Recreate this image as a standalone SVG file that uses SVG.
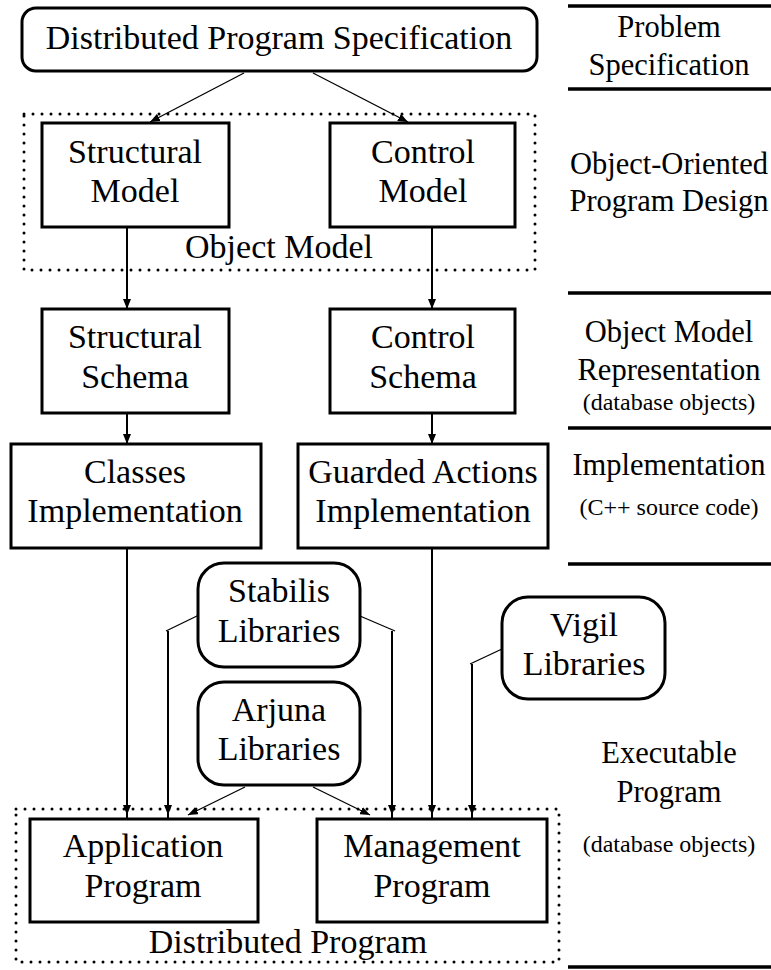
<svg xmlns="http://www.w3.org/2000/svg" width="771" height="970" viewBox="0 0 771 970">
<style>
text{font-family:"Liberation Serif","Times New Roman",serif;font-size:34px;fill:#000;text-anchor:middle}
.rl{font-size:30.5px}
.sm{font-size:24px}
.box{fill:#fff;stroke:#000;stroke-width:3}
.dot{fill:none;stroke:#000;stroke-width:3;stroke-dasharray:0 9;stroke-linecap:round}
.sep{stroke:#000;stroke-width:3.5}
.c{fill:none;stroke:#000;stroke-width:2}
.d{fill:none;stroke:#000;stroke-width:1.3}
</style>
<defs>
<marker id="ah" viewBox="0 0 10 8" refX="10" refY="4" markerWidth="10" markerHeight="8" markerUnits="userSpaceOnUse" orient="auto">
<path d="M0,0 L10,4 L0,8 z" fill="#000"/>
</marker>
</defs>
<rect width="771" height="970" fill="#fff"/>

<g id="layers">
<line class="sep" x1="568" y1="6" x2="771" y2="6"/>
<line class="sep" x1="568" y1="89" x2="771" y2="89"/>
<line class="sep" x1="568" y1="293" x2="771" y2="293"/>
<line class="sep" x1="568" y1="428" x2="771" y2="428"/>
<line class="sep" x1="568" y1="564" x2="771" y2="564"/>
<line class="sep" x1="568" y1="967" x2="771" y2="967"/>
<text class="rl" x="669" y="37">Problem</text>
<text class="rl" x="669" y="75">Specification</text>
<text class="rl" x="669" y="174">Object-Oriented</text>
<text class="rl" x="669" y="211">Program Design</text>
<text class="rl" x="669" y="342">Object Model</text>
<text class="rl" x="669" y="380">Representation</text>
<text class="sm" x="669" y="410">(database objects)</text>
<text class="rl" x="669" y="475">Implementation</text>
<text class="sm" x="669" y="515">(C++ source code)</text>
<text class="rl" x="669" y="763">Executable</text>
<text class="rl" x="669" y="802">Program</text>
<text class="sm" x="669" y="852">(database objects)</text>
</g>

<g id="object-model-group">
<rect class="dot" x="24" y="114" width="511" height="156"/>
<text x="279" y="258">Object Model</text>
</g>
<g id="distributed-program-group">
<rect class="dot" x="16" y="809" width="543" height="153"/>
<text x="288" y="953">Distributed Program</text>
</g>

<g id="connectors">
<line class="d" x1="244" y1="73" x2="150" y2="122" marker-end="url(#ah)"/>
<line class="d" x1="313" y1="73" x2="408" y2="122" marker-end="url(#ah)"/>
<line class="c" x1="127" y1="227" x2="127" y2="309" marker-end="url(#ah)"/>
<line class="c" x1="432" y1="227" x2="432" y2="309" marker-end="url(#ah)"/>
<line class="c" x1="127" y1="413" x2="127" y2="444" marker-end="url(#ah)"/>
<line class="c" x1="432" y1="413" x2="432" y2="444" marker-end="url(#ah)"/>
<line class="c" x1="127" y1="548" x2="127" y2="819"/>
<line class="c" x1="127" y1="548" x2="127" y2="815" marker-end="url(#ah)"/>
<line class="c" x1="432" y1="548" x2="432" y2="819"/>
<line class="c" x1="432" y1="548" x2="432" y2="815" marker-end="url(#ah)"/>
<polyline class="d" points="199,615 166,631"/>
<line class="c" x1="168" y1="631" x2="168" y2="819"/>
<line class="c" x1="168" y1="631" x2="168" y2="815" marker-end="url(#ah)"/>
<polyline class="d" points="360,616 395,631"/>
<line class="c" x1="392" y1="631" x2="392" y2="819"/>
<line class="c" x1="392" y1="631" x2="392" y2="815" marker-end="url(#ah)"/>
<polyline class="d" points="502,649 470,664"/>
<line class="c" x1="472" y1="664" x2="472" y2="819"/>
<line class="c" x1="472" y1="664" x2="472" y2="815" marker-end="url(#ah)"/>
<line class="d" x1="245" y1="787" x2="188" y2="815" marker-end="url(#ah)"/>
<line class="d" x1="313" y1="787" x2="370" y2="815" marker-end="url(#ah)"/>
</g>

<g id="spec">
<rect class="box" x="22" y="8" width="515" height="63" rx="14"/>
<text x="279" y="49">Distributed Program Specification</text>
</g>
<g id="structural-model">
<rect class="box" x="42" y="123" width="187" height="104"/>
<text x="135" y="163">Structural</text>
<text x="135" y="202">Model</text>
</g>
<g id="control-model">
<rect class="box" x="330" y="123" width="185" height="104"/>
<text x="423" y="163">Control</text>
<text x="423" y="202">Model</text>
</g>
<g id="structural-schema">
<rect class="box" x="42" y="309" width="187" height="104"/>
<text x="135" y="348">Structural</text>
<text x="135" y="388">Schema</text>
</g>
<g id="control-schema">
<rect class="box" x="330" y="309" width="185" height="104"/>
<text x="423" y="348">Control</text>
<text x="423" y="388">Schema</text>
</g>
<g id="classes-impl">
<rect class="box" x="11" y="444" width="250" height="104"/>
<text x="135" y="483">Classes</text>
<text x="135" y="522">Implementation</text>
</g>
<g id="guarded-impl">
<rect class="box" x="298" y="444" width="250" height="104"/>
<text x="423" y="483">Guarded Actions</text>
<text x="423" y="522">Implementation</text>
</g>
<g id="stabilis">
<rect class="box" x="198" y="563" width="162" height="104" rx="26"/>
<text x="279" y="602">Stabilis</text>
<text x="279" y="642">Libraries</text>
</g>
<g id="arjuna">
<rect class="box" x="198" y="682" width="162" height="103" rx="26"/>
<text x="279" y="721">Arjuna</text>
<text x="279" y="760">Libraries</text>
</g>
<g id="vigil">
<rect class="box" x="502" y="597" width="163" height="102" rx="26"/>
<text x="584" y="636">Vigil</text>
<text x="584" y="675">Libraries</text>
</g>
<g id="application-program">
<rect class="box" x="30" y="819" width="228" height="103"/>
<text x="143" y="857">Application</text>
<text x="143" y="897">Program</text>
</g>
<g id="management-program">
<rect class="box" x="317" y="819" width="230" height="103"/>
<text x="432" y="857">Management</text>
<text x="432" y="897">Program</text>
</g>
</svg>
